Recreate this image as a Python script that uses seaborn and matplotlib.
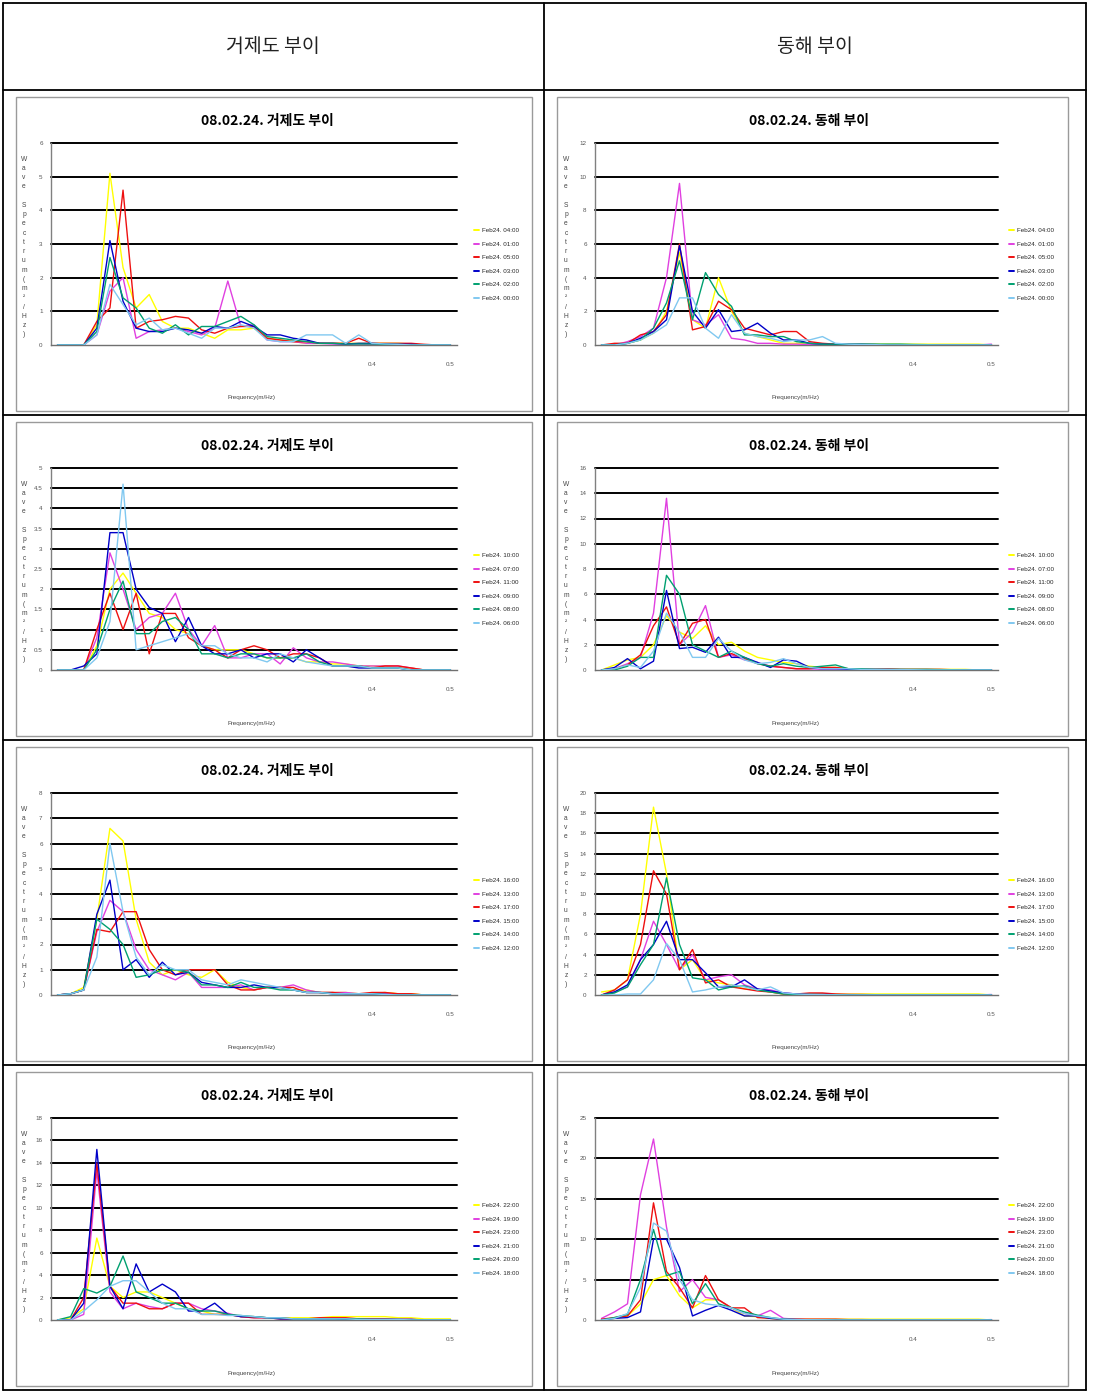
import numpy as np
import pandas as pd
import matplotlib
matplotlib.use("Agg")
import matplotlib.pyplot as plt
import seaborn as sns
from matplotlib.lines import Line2D
from matplotlib.patches import Rectangle

sns.set_theme(style="white")
plt.rcParams['font.family'] = ['Noto Sans CJK KR', 'DejaVu Sans']

# ---------------- data ----------------
n_cat = 31
freq_labels = {24: "0.4", 30: "0.5"}
col_titles = ["거제도 부이", "동해 부이"]
chart_titles = ["08.02.24. 거제도 부이", "08.02.24. 동해 부이"]
series_colors = ["#FFFF00", "#E040E0", "#EE1010", "#0000C8", "#00A070", "#80C8F0"]

legend_r1 = ["Feb24. 04:00", "Feb24. 01:00", "Feb24. 05:00", "Feb24. 03:00", "Feb24. 02:00", "Feb24. 00:00"]
legend_r2 = ["Feb24. 10:00", "Feb24. 07:00", "Feb24. 11:00", "Feb24. 09:00", "Feb24. 08:00", "Feb24. 06:00"]
legend_r3 = ["Feb24. 16:00", "Feb24. 13:00", "Feb24. 17:00", "Feb24. 15:00", "Feb24. 14:00", "Feb24. 12:00"]
legend_r4 = ["Feb24. 22:00", "Feb24. 19:00", "Feb24. 23:00", "Feb24. 21:00", "Feb24. 20:00", "Feb24. 18:00"]

yticks_geoje_r1 = [0, 1, 2, 3, 4, 5, 6]
yticks_geoje_r2 = [0, 0.5, 1, 1.5, 2, 2.5, 3, 3.5, 4, 4.5, 5]
yticks_geoje_r3 = [0, 1, 2, 3, 4, 5, 6, 7, 8]
yticks_geoje_r4 = [0, 2, 4, 6, 8, 10, 12, 14, 16, 18]
yticks_dong_r1 = [0, 2, 4, 6, 8, 10, 12]
yticks_dong_r2 = [0, 2, 4, 6, 8, 10, 12, 14, 16]
yticks_dong_r3 = [0, 2, 4, 6, 8, 10, 12, 14, 16, 18, 20]
yticks_dong_r4 = [0, 5, 10, 15, 20, 25]

geoje_r1 = [
    [0,0,0,0.6,5.1,2.3,1.1,1.5,0.7,0.5,0.5,0.35,0.2,0.45,0.45,0.5,0.2,0.15,0.1,0.05,0.05,0.05,0.05,0.05,0.05,0.05,0.05,0.03,0,0,0],
    [0,0,0,0.3,1.6,2.0,0.2,0.4,0.45,0.5,0.4,0.3,0.5,1.9,0.55,0.6,0.15,0.1,0.1,0.05,0.05,0.03,0.03,0.03,0.02,0.02,0.02,0,0,0,0],
    [0,0,0,0.7,1.1,4.6,0.5,0.7,0.75,0.85,0.8,0.45,0.35,0.5,0.55,0.55,0.2,0.15,0.1,0.1,0.05,0.05,0.05,0.2,0.05,0.05,0.05,0.05,0.02,0,0],
    [0,0,0,0.5,3.1,1.3,0.5,0.4,0.4,0.5,0.45,0.35,0.55,0.5,0.7,0.55,0.3,0.3,0.2,0.15,0.05,0.05,0.03,0.05,0.05,0.03,0.02,0.02,0,0,0],
    [0,0,0,0.4,2.6,1.4,1.1,0.5,0.35,0.6,0.3,0.55,0.55,0.7,0.85,0.6,0.25,0.2,0.15,0.1,0.05,0.05,0.03,0.03,0.03,0.02,0.02,0,0,0,0],
    [0,0,0,0.3,1.8,1.2,0.6,0.8,0.45,0.5,0.35,0.2,0.5,0.5,0.6,0.5,0.15,0.1,0.1,0.3,0.3,0.3,0.05,0.3,0.05,0.03,0.02,0,0,0,0],
]
dong_r1 = [
    [0,0,0.1,0.3,0.7,2.0,5.5,1.5,1.0,4.0,2.0,0.7,0.5,0.3,0.1,0.1,0.05,0.05,0.05,0.05,0.05,0.05,0.05,0.05,0.05,0.05,0.05,0.05,0.05,0.05,0],
    [0,0,0.2,0.5,1.0,4.0,9.6,1.5,1.2,1.8,0.4,0.3,0.1,0.1,0.05,0.05,0.03,0.02,0,0,0,0,0,0,0,0,0,0,0,0,0.05],
    [0,0.1,0.1,0.6,0.8,1.8,6.0,0.9,1.1,2.6,2.1,1.0,0.8,0.6,0.8,0.8,0.2,0.1,0.05,0.03,0.02,0,0,0,0,0,0,0,0,0,0],
    [0,0,0.1,0.4,0.8,1.5,5.9,2.0,1.0,2.1,0.8,0.9,1.3,0.7,0.3,0.3,0.1,0.05,0.03,0.05,0.05,0.03,0,0,0,0,0,0,0,0,0],
    [0,0,0.1,0.3,1.0,2.5,5.0,1.5,4.3,3.0,2.3,0.6,0.6,0.5,0.5,0.2,0.1,0.05,0.05,0.05,0.05,0.05,0.05,0.05,0.03,0.02,0,0,0,0,0],
    [0,0,0.1,0.3,0.7,1.2,2.8,2.8,1.0,0.4,1.8,0.7,0.5,0.4,0.2,0.3,0.3,0.5,0.1,0.05,0.03,0.02,0,0,0,0,0,0,0,0,0],
]
geoje_r2 = [
    [0,0,0,0.6,2.0,2.4,1.9,1.4,1.3,1.0,0.9,0.6,0.5,0.5,0.5,0.4,0.3,0.3,0.3,0.2,0.2,0.15,0.15,0.1,0.1,0.1,0.05,0.05,0,0,0],
    [0,0,0,0.8,2.9,2.0,1.0,1.3,1.4,1.9,1.0,0.6,1.1,0.3,0.3,0.4,0.4,0.15,0.55,0.3,0.2,0.2,0.15,0.1,0.1,0.1,0.1,0.05,0,0,0],
    [0,0,0,1.0,1.9,1.0,1.9,0.4,1.4,1.4,0.8,0.6,0.5,0.3,0.5,0.6,0.5,0.3,0.4,0.4,0.3,0.1,0.1,0.1,0.05,0.1,0.1,0.05,0,0,0],
    [0,0,0.1,0.4,3.4,3.4,2.0,1.55,1.4,0.7,1.3,0.6,0.4,0.4,0.5,0.3,0.4,0.4,0.2,0.5,0.3,0.1,0.1,0.05,0.05,0.05,0.05,0,0,0,0],
    [0,0,0,0.5,1.5,2.2,0.9,0.9,1.2,1.3,1.0,0.4,0.4,0.3,0.4,0.4,0.3,0.3,0.3,0.4,0.2,0.1,0.1,0.1,0.05,0.05,0.05,0,0,0,0],
    [0,0,0,0.3,1.2,4.6,0.5,0.6,0.7,0.8,0.9,0.6,0.6,0.4,0.3,0.3,0.2,0.4,0.3,0.2,0.15,0.1,0.1,0.1,0.05,0.05,0.05,0,0,0,0],
]
dong_r2 = [
    [0,0.4,0.8,1.0,2.0,4.3,3.0,2.5,3.5,2.0,2.2,1.5,1.0,0.8,0.6,0.5,0.3,0.2,0.2,0.1,0.1,0.1,0.1,0.05,0.05,0.05,0.05,0.05,0.05,0,0],
    [0,0.1,0.5,1.0,4.5,13.6,2.0,3.0,5.1,1.0,1.2,0.8,0.6,0.3,0.2,0.1,0.1,0.05,0.05,0.05,0.05,0.05,0.05,0.03,0.03,0.03,0.02,0,0,0,0],
    [0,0.1,0.4,1.2,3.5,5.0,2.0,3.7,4.0,1.0,1.3,0.9,0.5,0.3,0.2,0.1,0.1,0.2,0.2,0.1,0.05,0.05,0.1,0.05,0.05,0.05,0.05,0.02,0,0,0],
    [0,0.2,0.9,0.1,0.7,6.3,1.7,1.8,1.4,2.6,1.0,1.0,0.6,0.2,0.8,0.7,0.2,0.1,0.1,0.05,0.05,0.05,0.03,0.03,0.02,0,0,0,0,0,0],
    [0,0,0.3,1.0,1.0,7.5,6.0,2.0,1.5,1.0,1.5,1.0,0.5,0.3,0.5,0.3,0.2,0.3,0.4,0.1,0.1,0.05,0.05,0.05,0.05,0.05,0.03,0.02,0,0,0],
    [0,0.1,0.4,0.2,1.5,4.5,3.0,1.0,1.0,2.5,1.5,0.8,0.5,0.6,0.9,0.5,0.2,0.1,0.1,0.1,0.05,0.05,0.05,0.03,0.02,0,0,0,0,0,0],
]
geoje_r3 = [
    [0,0.05,0.3,3.0,6.6,6.1,3.0,1.3,0.8,1.0,0.8,0.7,1.0,0.5,0.3,0.2,0.3,0.3,0.2,0.2,0.1,0.1,0.1,0.05,0.05,0.1,0.05,0.05,0,0,0],
    [0,0.05,0.2,2.5,3.75,3.3,1.8,1.0,0.8,0.6,0.9,0.3,0.3,0.3,0.4,0.2,0.3,0.3,0.4,0.2,0.1,0.1,0.1,0.05,0.05,0.05,0.05,0,0,0,0],
    [0,0.05,0.2,2.6,2.5,3.3,3.3,1.8,1.0,0.8,1.0,1.0,1.0,0.4,0.2,0.2,0.3,0.3,0.3,0.1,0.1,0.1,0.05,0.05,0.1,0.1,0.05,0.05,0,0,0],
    [0,0.05,0.2,3.2,4.55,1.0,1.4,0.7,1.3,0.8,0.9,0.5,0.4,0.3,0.3,0.4,0.3,0.3,0.2,0.1,0.1,0.05,0.05,0.05,0.05,0.02,0,0,0,0,0],
    [0,0.05,0.2,3.0,2.6,2.0,0.7,0.8,1.0,1.0,0.9,0.4,0.4,0.3,0.5,0.3,0.3,0.2,0.2,0.1,0.1,0.05,0.05,0.05,0.05,0.02,0,0,0,0,0],
    [0,0.05,0.2,1.5,6.0,3.3,1.5,0.8,1.2,1.0,1.0,0.6,0.5,0.4,0.6,0.5,0.4,0.3,0.2,0.1,0.1,0.05,0.05,0.05,0.05,0.02,0,0,0,0,0],
]
dong_r3 = [
    [0.3,0.5,1.5,8.0,18.6,12.0,2.5,3.5,1.5,1.2,1.0,0.6,0.5,0.3,0.1,0.1,0.1,0.1,0.1,0.1,0.1,0.1,0.1,0.1,0.1,0.1,0.1,0.1,0.1,0.1,0],
    [0,0.3,0.8,3.5,7.3,5.0,2.5,4.0,1.5,1.8,2.0,1.0,0.6,0.5,0.2,0.1,0.05,0.05,0.05,0.05,0.03,0.02,0,0,0,0,0,0,0,0,0.05],
    [0,0.5,1.5,5.0,12.3,10.0,2.5,4.5,1.2,1.5,0.8,0.6,0.4,0.3,0.1,0.1,0.2,0.2,0.1,0.05,0.05,0.03,0.02,0,0,0,0,0,0,0,0],
    [0,0.3,1.0,3.5,5.0,7.3,3.5,3.5,2.2,0.8,0.8,1.5,0.6,0.4,0.2,0.1,0.05,0.05,0.03,0.02,0,0,0,0,0,0,0,0,0,0,0],
    [0,0.2,0.8,3.0,5.0,11.6,5.0,1.7,1.5,0.5,0.8,0.9,0.5,0.3,0.1,0.05,0.05,0.03,0.02,0,0,0,0,0,0,0,0,0,0,0,0],
    [0,0,0.1,0.1,1.5,5.1,3.5,0.3,0.5,0.8,1.0,0.8,0.5,0.8,0.2,0.1,0.05,0.03,0.02,0,0,0,0,0,0,0,0,0,0,0,0],
]
geoje_r4 = [
    [0,0.2,1.0,7.3,3.0,2.0,2.5,2.5,2.0,1.5,1.0,0.8,0.5,0.5,0.3,0.3,0.2,0.2,0.2,0.2,0.2,0.3,0.3,0.3,0.3,0.3,0.2,0.2,0.1,0.1,0.1],
    [0,0,0.5,13.3,2.5,1.0,1.5,1.2,1.0,1.5,1.5,1.0,0.8,0.6,0.3,0.2,0.2,0.2,0.1,0.1,0.1,0.1,0.1,0.1,0.1,0.1,0.05,0.05,0,0,0],
    [0,0,2.0,14.0,3.0,1.5,1.5,1.0,1.0,1.5,1.5,0.5,0.5,0.5,0.3,0.2,0.2,0.1,0.1,0.1,0.2,0.2,0.2,0.1,0.1,0.1,0.05,0.05,0,0,0],
    [0,0,1.5,15.2,3.0,1.0,5.0,2.5,3.2,2.5,0.8,0.8,1.5,0.5,0.3,0.3,0.2,0.1,0.1,0.1,0.1,0.1,0.05,0.05,0.05,0.05,0.05,0.05,0,0,0],
    [0,0.3,2.8,2.4,3.0,5.7,2.5,2.0,1.5,1.5,1.0,0.8,0.8,0.5,0.4,0.3,0.2,0.2,0.1,0.1,0.1,0.1,0.1,0.1,0.05,0.05,0.05,0,0,0,0],
    [0,0,0.8,1.8,3.0,3.5,3.5,2.5,1.5,1.0,1.0,0.5,0.5,0.4,0.4,0.3,0.2,0.2,0.1,0.1,0.1,0.1,0.1,0.05,0.05,0.05,0.05,0,0,0,0],
]
dong_r4 = [
    [0,0.2,0.5,2.0,5.0,5.5,3.0,1.5,2.5,2.5,1.5,0.5,0.4,0.2,0.1,0.1,0.1,0.1,0.1,0.1,0.1,0.1,0.1,0.1,0.1,0.1,0.1,0.1,0.1,0.1,0],
    [0.2,1.0,2.0,15.5,22.4,11.5,3.5,5.0,2.8,2.5,1.5,0.8,0.5,1.2,0.2,0.1,0.05,0.05,0.03,0.02,0,0,0,0,0,0,0,0,0,0,0.05],
    [0.1,0.3,0.5,2.5,14.5,6.0,4.0,1.5,5.5,2.5,1.5,1.5,0.3,0.2,0.1,0.1,0.1,0.1,0.1,0.05,0.05,0.03,0,0,0,0,0,0,0,0,0],
    [0,0.2,0.3,1.0,10.0,10.0,6.5,0.5,1.2,1.8,1.2,0.5,0.5,0.2,0.1,0.05,0.03,0.02,0,0,0,0,0,0,0,0,0,0,0,0,0],
    [0,0.3,0.7,5.0,11.2,5.5,6.0,2.0,4.5,2.0,1.5,1.0,0.6,0.3,0.1,0.05,0.03,0.02,0,0,0,0,0,0,0,0,0,0,0,0,0],
    [0,0.2,0.8,4.0,12.0,11.0,5.0,2.5,2.0,1.8,1.5,0.8,0.5,0.3,0.1,0.05,0.03,0.02,0,0,0,0,0,0,0,0,0,0,0,0,0],
]

panels = [
    [(geoje_r1, legend_r1, yticks_geoje_r1), (dong_r1, legend_r1, yticks_dong_r1)],
    [(geoje_r2, legend_r2, yticks_geoje_r2), (dong_r2, legend_r2, yticks_dong_r2)],
    [(geoje_r3, legend_r3, yticks_geoje_r3), (dong_r3, legend_r3, yticks_dong_r3)],
    [(geoje_r4, legend_r4, yticks_geoje_r4), (dong_r4, legend_r4, yticks_dong_r4)],
]

# ---------------- figure ----------------
W, H = 1093, 1396
fig = plt.figure(figsize=(W / 100, H / 100), dpi=100)
fig.patch.set_facecolor("white")

def fx(x):
    return x / W

def fy(y):
    return 1 - y / H

def fig_line(xs, ys, color="black", lw=1.3):
    fig.add_artist(Line2D([fx(v) for v in xs], [fy(v) for v in ys],
                          transform=fig.transFigure, color=color, lw=lw))

# table grid
tab_l, tab_r, tab_t, tab_b, tab_mid = 3, 1086, 3, 1390, 544
for yy in [tab_t, 90, 415, 740, 1065, tab_b]:
    fig_line([tab_l, tab_r], [yy, yy])
for xx in [tab_l, tab_mid, tab_r]:
    fig_line([xx, xx], [tab_t, tab_b])

fig.text(fx(273), fy(47), col_titles[0], ha="center", va="center",
         fontsize=14, fontweight="light", color="#222222")
fig.text(fx(815), fy(47), col_titles[1], ha="center", va="center",
         fontsize=14, fontweight="light", color="#222222")

small_font = ["Liberation Sans", "DejaVu Sans"]
ylabel_chars = "Wave Spectrum(m²/Hz)"

for r in range(4):
    for c in range(2):
        values, labels, yticks = panels[r][c]
        off = 325 * r
        if c == 0:
            x0, x1 = 51, 457
            box = (16, 532)
            title_x, xlab_x, leg_x, ylab_x = 267, 252, 474, 24
        else:
            x0, x1 = 595, 998
            box = (557, 1068)
            title_x, xlab_x, leg_x, ylab_x = 809, 796, 1009, 566
        top, bot = 143 + off, 345 + off

        # chart frame
        fig.add_artist(Rectangle((fx(box[0]), fy(411 + off)), fx(box[1] - box[0]),
                                 (411 - 97) / H, transform=fig.transFigure,
                                 fill=False, edgecolor="#9a9a9a", lw=1.0))

        ax = fig.add_axes([fx(x0), fy(bot), fx(x1 - x0), (bot - top) / H])
        rows = []
        for lab, vals in zip(labels, values):
            for i, v in enumerate(vals):
                rows.append({"cat": i, "value": v, "series": lab})
        df = pd.DataFrame(rows)
        sns.lineplot(data=df, x="cat", y="value", hue="series", hue_order=labels,
                     palette=dict(zip(labels, series_colors)), ax=ax, legend=False,
                     lw=1.0, estimator=None, sort=False, zorder=3)

        ax.set_xlim(-0.5, n_cat - 0.5)
        ax.set_ylim(0, yticks[-1])
        ax.set_xlabel("")
        ax.set_ylabel("")
        for s in ["top", "right"]:
            ax.spines[s].set_visible(False)
        ax.spines["left"].set_color("#808080")
        ax.spines["left"].set_linewidth(1.0)
        ax.spines["bottom"].set_color("#707070")
        ax.spines["bottom"].set_linewidth(1.0)
        ax.set_axisbelow(True)

        # horizontal gridlines (except zero)
        for t in yticks[1:]:
            ax.axhline(t, color="black", lw=1.4, zorder=1, clip_on=False)

        ax.set_yticks(yticks)
        ax.set_yticklabels([("%g" % t) for t in yticks], fontsize=4.5,
                           color="#555555", family=small_font)
        ax.tick_params(axis="y", length=0, pad=6)

        ax.set_xticks(np.arange(-0.5, n_cat, 1.0))
        ax.set_xticklabels([])
        ax.tick_params(axis="x", which="major", direction="out", length=4,
                       width=0.8, color="#606060")
        ax.set_xticks(list(freq_labels.keys()), minor=True)
        ax.set_xticklabels(list(freq_labels.values()), minor=True, fontsize=4.5,
                           color="#555555", family=small_font)
        ax.tick_params(axis="x", which="minor", length=0, pad=12)

        # legend
        handles = [Line2D([0], [0], color=col, lw=1.4) for col in series_colors]
        ax.legend(handles, labels, loc="upper left",
                  bbox_to_anchor=(fx(leg_x), fy(228 + off)),
                  bbox_transform=fig.transFigure, frameon=False,
                  prop={"family": small_font, "size": 4.5},
                  handlelength=0.8, handletextpad=0.5, labelspacing=1.3,
                  borderpad=0, borderaxespad=0)

        # titles and axis labels
        fig.text(fx(title_x), fy(121 + off), chart_titles[c], ha="center",
                 va="center", fontsize=10, fontweight="bold", color="black")
        fig.text(fx(xlab_x), fy(398 + off), "Frequency(m/Hz)", ha="center",
                 va="center", fontsize=4.5, color="#444444", family=small_font)
        fig.text(fx(ylab_x), fy(247 + off), "\n".join(ylabel_chars), ha="center",
                 va="center", fontsize=4.8, color="#444444", family=small_font,
                 linespacing=1.45)

fig.savefig("out.png", dpi=100, facecolor="white")
